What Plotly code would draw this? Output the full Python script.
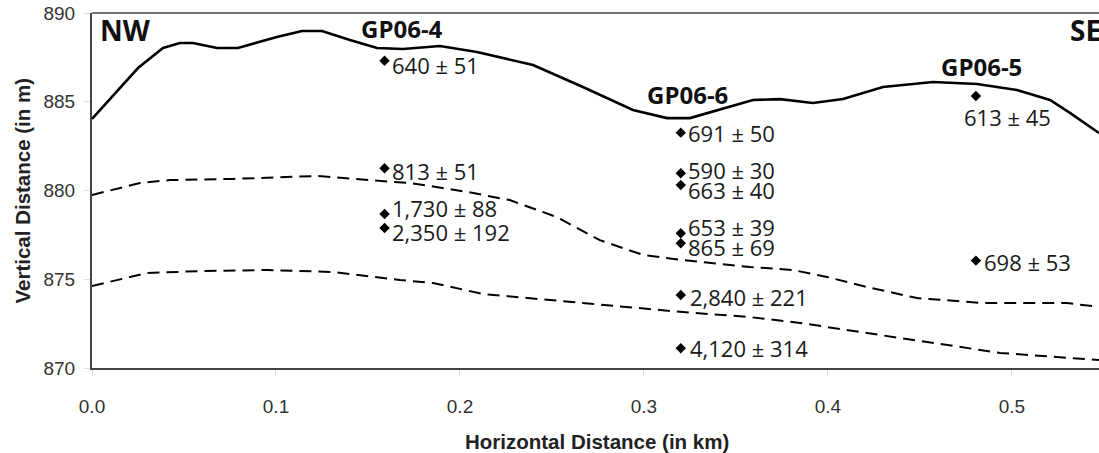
import plotly.graph_objects as go

# Ground surface profile (solid)
surf_x = [0, 0.025, 0.0386, 0.0478, 0.0549, 0.0679, 0.0793, 0.1005, 0.1141, 0.125, 0.1402,
          0.1549, 0.169, 0.1891, 0.2092, 0.2397, 0.2668, 0.294, 0.3125, 0.325, 0.3592,
          0.3739, 0.3918, 0.4082, 0.4299, 0.4571, 0.481, 0.5027, 0.5207, 0.5315, 0.5473]
surf_y = [884.03, 886.90, 888.03, 888.31, 888.31, 888.03, 888.03, 888.65, 888.99, 888.99, 888.48,
          888.03, 887.97, 888.14, 887.80, 887.07, 885.83, 884.54, 884.08, 884.08, 885.10,
          885.15, 884.93, 885.15, 885.83, 886.11, 886.0, 885.66, 885.10, 884.37, 883.24]

# Upper dashed horizon
up_x = [0, 0.026, 0.0424, 0.0766, 0.1223, 0.1495, 0.1745, 0.205, 0.227, 0.2527, 0.276,
        0.2995, 0.3212, 0.3576, 0.381, 0.3995, 0.4212, 0.4484, 0.4842, 0.5299, 0.5473]
up_y = [879.75, 880.42, 880.59, 880.65, 880.82, 880.59, 880.40, 879.90, 879.46, 878.50, 877.20,
        876.37, 876.08, 875.69, 875.52, 875.13, 874.56, 873.94, 873.66, 873.66, 873.44]

# Lower dashed horizon
lo_x = [0, 0.0299, 0.0587, 0.0951, 0.131, 0.1674, 0.1853, 0.2125, 0.2489, 0.2853, 0.3212,
        0.3576, 0.3848, 0.4212, 0.4571, 0.4935, 0.5473]
lo_y = [874.62, 875.35, 875.46, 875.52, 875.41, 874.96, 874.79, 874.17, 873.83, 873.49, 873.15,
        872.87, 872.54, 871.97, 871.41, 870.85, 870.45]

# Samples (ages)
samp_x = [0.159, 0.159, 0.159, 0.159,
          0.320, 0.320, 0.320, 0.320, 0.320, 0.320, 0.320,
          0.4804, 0.4804]
samp_y = [887.31, 881.25, 878.68, 877.89,
          883.26, 880.97, 880.31, 877.59, 877.03, 874.11, 871.11,
          885.32, 876.05]
samp_label = ["640 ± 51", "813 ± 51", "1,730 ± 88", "2,350 ± 192",
              "691 ± 50", "590 ± 30", "663 ± 40", "653 ± 39", "865 ± 69", "2,840 ± 221", "4,120 ± 314",
              "613 ± 45", "698 ± 53"]

# Site names
site_names = ["GP06-4", "GP06-6", "GP06-5"]
site_x = [0.1685, 0.3235, 0.4832]
site_y = [889.15, 885.4, 887.0]

x_ticks = [0, 0.1, 0.2, 0.3, 0.4, 0.5]
x_tick_text = ["0.0", "0.1", "0.2", "0.3", "0.4", "0.5"]
y_ticks = [870, 875, 880, 885, 890]

# label layout offsets (pixels): xshift, yshift, xanchor
label_layout = [(5, -4, "left"), (5, -3, "left"), (5, 6, "left"), (5, -4, "left"),
                (5, 0, "left"), (5, 3, "left"), (5, -5, "left"), (5, 6, "left"), (5, -4, "left"),
                (7, -2, "left"), (7, 0, "left"),
                (32, -21, "center"), (6, -1, "left")]

fig = go.Figure()
fig.add_trace(go.Scatter(x=surf_x, y=surf_y, mode="lines",
                         line=dict(color="black", width=2.6), hoverinfo="skip"))
fig.add_trace(go.Scatter(x=up_x, y=up_y, mode="lines",
                         line=dict(color="black", width=2, dash="12px,7px"), hoverinfo="skip"))
fig.add_trace(go.Scatter(x=lo_x, y=lo_y, mode="lines",
                         line=dict(color="black", width=2, dash="12px,7px"), hoverinfo="skip"))
fig.add_trace(go.Scatter(x=samp_x, y=samp_y, mode="markers",
                         marker=dict(symbol="diamond", size=8, color="black"), hoverinfo="skip"))

label_font = dict(family="Open Sans", size=22, color="#1a1a1a")
for x, y, t, (xs, ys, xa) in zip(samp_x, samp_y, samp_label, label_layout):
    fig.add_annotation(x=x, y=y, text=t, showarrow=False, xanchor=xa, yanchor="middle",
                       xshift=xs, yshift=ys, font=label_font)

for t, x, y in zip(site_names, site_x, site_y):
    fig.add_annotation(x=x, y=y, text="<b>" + t + "</b>", showarrow=False,
                       xanchor="center", yanchor="middle",
                       font=dict(family="Open Sans", size=24, color="#111"))

fig.add_annotation(x=0.003, y=889.05, text="<b>NW</b>", showarrow=False, xanchor="left",
                   yanchor="middle", font=dict(family="Open Sans", size=28, color="#111"))
fig.add_annotation(x=0.5304, y=889.05, text="<b>SE</b>", showarrow=False, xanchor="left",
                   yanchor="middle", font=dict(family="Open Sans", size=28, color="#111"))

# axis titles
fig.add_annotation(xref="paper", yref="paper", x=-92 / 1007 + 22 / 1007, y=(368 - 190.5) / 355,
                   text="<b>Vertical Distance (in m)</b>", textangle=-90, showarrow=False,
                   xanchor="center", yanchor="middle",
                   font=dict(family="Liberation Sans", size=20.5, color="#222"))
fig.add_annotation(xref="paper", yref="paper", x=(597 - 92) / 1007, y=-(441 - 368) / 355,
                   text="<b>Horizontal Distance (in km)</b>", showarrow=False,
                   xanchor="center", yanchor="middle",
                   font=dict(family="Liberation Sans", size=20.5, color="#222"))

# top border
fig.add_shape(type="line", xref="paper", yref="paper", x0=0, x1=1, y0=1, y1=1,
              line=dict(color="#444", width=1.5))

fig.update_layout(
    width=1099, height=453,
    margin=dict(l=92, r=0, t=13, b=85, autoexpand=False),
    plot_bgcolor="white", paper_bgcolor="white",
    showlegend=False,
    xaxis=dict(range=[0, 0.5473], tickvals=x_ticks, ticktext=x_tick_text, automargin=False,
               showgrid=False, zeroline=False, showline=True, linecolor="#444", linewidth=2,
               ticks="outside", ticklen=6, tickcolor="#ddd", tickwidth=1, ticklabelstandoff=14,
               tickfont=dict(family="Liberation Sans", size=19, color="#333")),
    yaxis=dict(range=[870, 890], tickvals=y_ticks, automargin=False,
               showgrid=False, zeroline=False, showline=True, linecolor="#444", linewidth=2,
               ticks="outside", ticklen=6, tickcolor="#ddd", tickwidth=1, ticklabelstandoff=5,
               tickfont=dict(family="Liberation Sans", size=19, color="#333")),
)

fig.write_html("out.html", config={"displayModeBar": False},
               post_script="document.body.style.margin='0';document.body.style.overflow='hidden';")
